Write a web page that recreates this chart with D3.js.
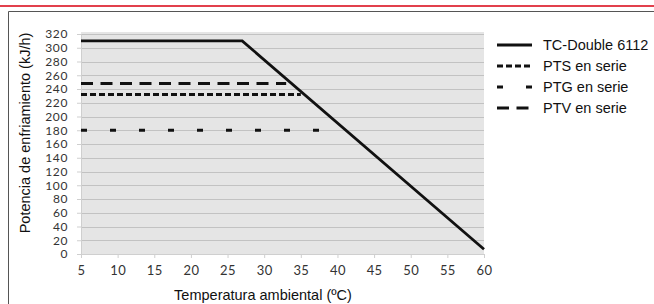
<!DOCTYPE html>
<html>
<head>
<meta charset="utf-8">
<script src="https://cdn.jsdelivr.net/npm/d3@7"></script>
<style>
  body { margin: 0; background: #fff; }
  svg { display: block; }
  .tick text { font-family: Lato, "Open Sans", sans-serif; fill: #333; }
  .x-axis .tick text { font-size: 13px; letter-spacing: 0.4px; }
  .y-axis .tick text { font-size: 12px; letter-spacing: 0.6px; }
  .lbl { font-family: "Liberation Sans", Arial, sans-serif; font-size: 14.5px; fill: #111; }
</style>
</head>
<body>
<svg width="654" height="304"></svg>
<script>
// Data

const xTicks = [5, 10, 15, 20, 25, 30, 35, 40, 45, 50, 55, 60]
const yTicks = d3.range(0, 321, 20)

const seriesNames = ['TC-Double 6112', 'PTS en serie', 'PTG en serie', 'PTV en serie']
const tcTemp = [5, 27, 60]
const tcPower = [310, 310, 7]
const ptsTemp = [5, 35]
const ptsPower = [232, 232]
const ptgTemp = [5, 38]
const ptgPower = [180, 180]
const ptvTemp = [5, 33]
const ptvPower = [248, 248]

const dashes = ['none', '6 3', '6 23', '12 7.5']

const series = [
  zip(tcTemp, tcPower),
  zip(ptsTemp, ptsPower),
  zip(ptgTemp, ptgPower),
  zip(ptvTemp, ptvPower),
]

function zip(xs, ys) {
  return xs.map((x, i) => ({x, y: ys[i]}))
}

// Layout

const svg = d3.select('svg')

const plot = {left: 81, right: 484, top: 34, bottom: 254}

const x = d3.scaleLinear()
    .domain([5, 60])
    .range([plot.left, plot.right])

const y = d3.scaleLinear()
    .domain([0, 320])
    .range([plot.bottom, plot.top])

// Page decoration (red rule + frame)

svg.append('line')
    .attr('x1', 0).attr('x2', 654)
    .attr('y1', 6).attr('y2', 6)
    .attr('stroke', '#e2404c')
    .attr('stroke-width', 2)

svg.append('path')
    .attr('d', 'M8.5,304V11.5H654')
    .attr('fill', 'none')
    .attr('stroke', '#555')
    .attr('stroke-width', 1)

// Plot background

svg.append('rect')
    .attr('x', plot.left)
    .attr('y', plot.top - 2)
    .attr('width', plot.right - plot.left)
    .attr('height', plot.bottom - plot.top + 2)
    .attr('fill', '#e5e5e5')

// Gridlines

svg.append('g')
    .selectAll('line')
    .data(yTicks.filter(d => d > 0))
    .join('line')
    .attr('x1', plot.left)
    .attr('x2', plot.right)
    .attr('y1', d => Math.round(y(d)) + 0.5)
    .attr('y2', d => Math.round(y(d)) + 0.5)
    .attr('stroke', '#c2c2c2')
    .attr('stroke-width', 1)

// Axes

const xAxis = svg.append('g')
    .attr('class', 'x-axis')
    .attr('transform', `translate(0,${plot.bottom})`)
    .call(d3.axisBottom(x).tickValues(xTicks).tickSize(4).tickPadding(8))

const yAxis = svg.append('g')
    .attr('class', 'y-axis')
    .attr('transform', `translate(${plot.left},0)`)
    .call(d3.axisLeft(y).tickValues(yTicks).tickSize(4).tickPadding(9))

xAxis.select('.domain').attr('stroke', '#cfcfcf')
yAxis.select('.domain').attr('stroke', '#cfcfcf')
svg.selectAll('.tick line').attr('stroke', '#cfcfcf')

// Series

const line = d3.line()
    .x(d => x(d.x))
    .y(d => y(d.y))

svg.append('g')
    .selectAll('path')
    .data(series)
    .join('path')
    .attr('d', line)
    .attr('fill', 'none')
    .attr('stroke', '#111')
    .attr('stroke-width', 2.8)
    .attr('stroke-dasharray', (d, i) => dashes[i])

// Legend

const legend = svg.append('g')
    .selectAll('g')
    .data(seriesNames)
    .join('g')
    .attr('transform', (d, i) => `translate(497,${45 + i * 21})`)

legend.append('line')
    .attr('x1', 0).attr('x2', 35)
    .attr('stroke', '#111')
    .attr('stroke-width', 2.8)
    .attr('stroke-dasharray', (d, i) => dashes[i])

legend.append('text')
    .attr('class', 'lbl')
    .attr('x', 46)
    .attr('dy', '0.35em')
    .text(d => d)

// Titles

svg.append('text')
    .attr('class', 'lbl')
    .attr('x', 263)
    .attr('y', 300)
    .attr('text-anchor', 'middle')
    .text('Temperatura ambiental (ºC)')

svg.append('text')
    .attr('class', 'lbl')
    .attr('transform', `translate(30,133) rotate(-90)`)
    .attr('text-anchor', 'middle')
    .text('Potencia de enfriamiento (kJ/h)')
</script>
</body>
</html>
